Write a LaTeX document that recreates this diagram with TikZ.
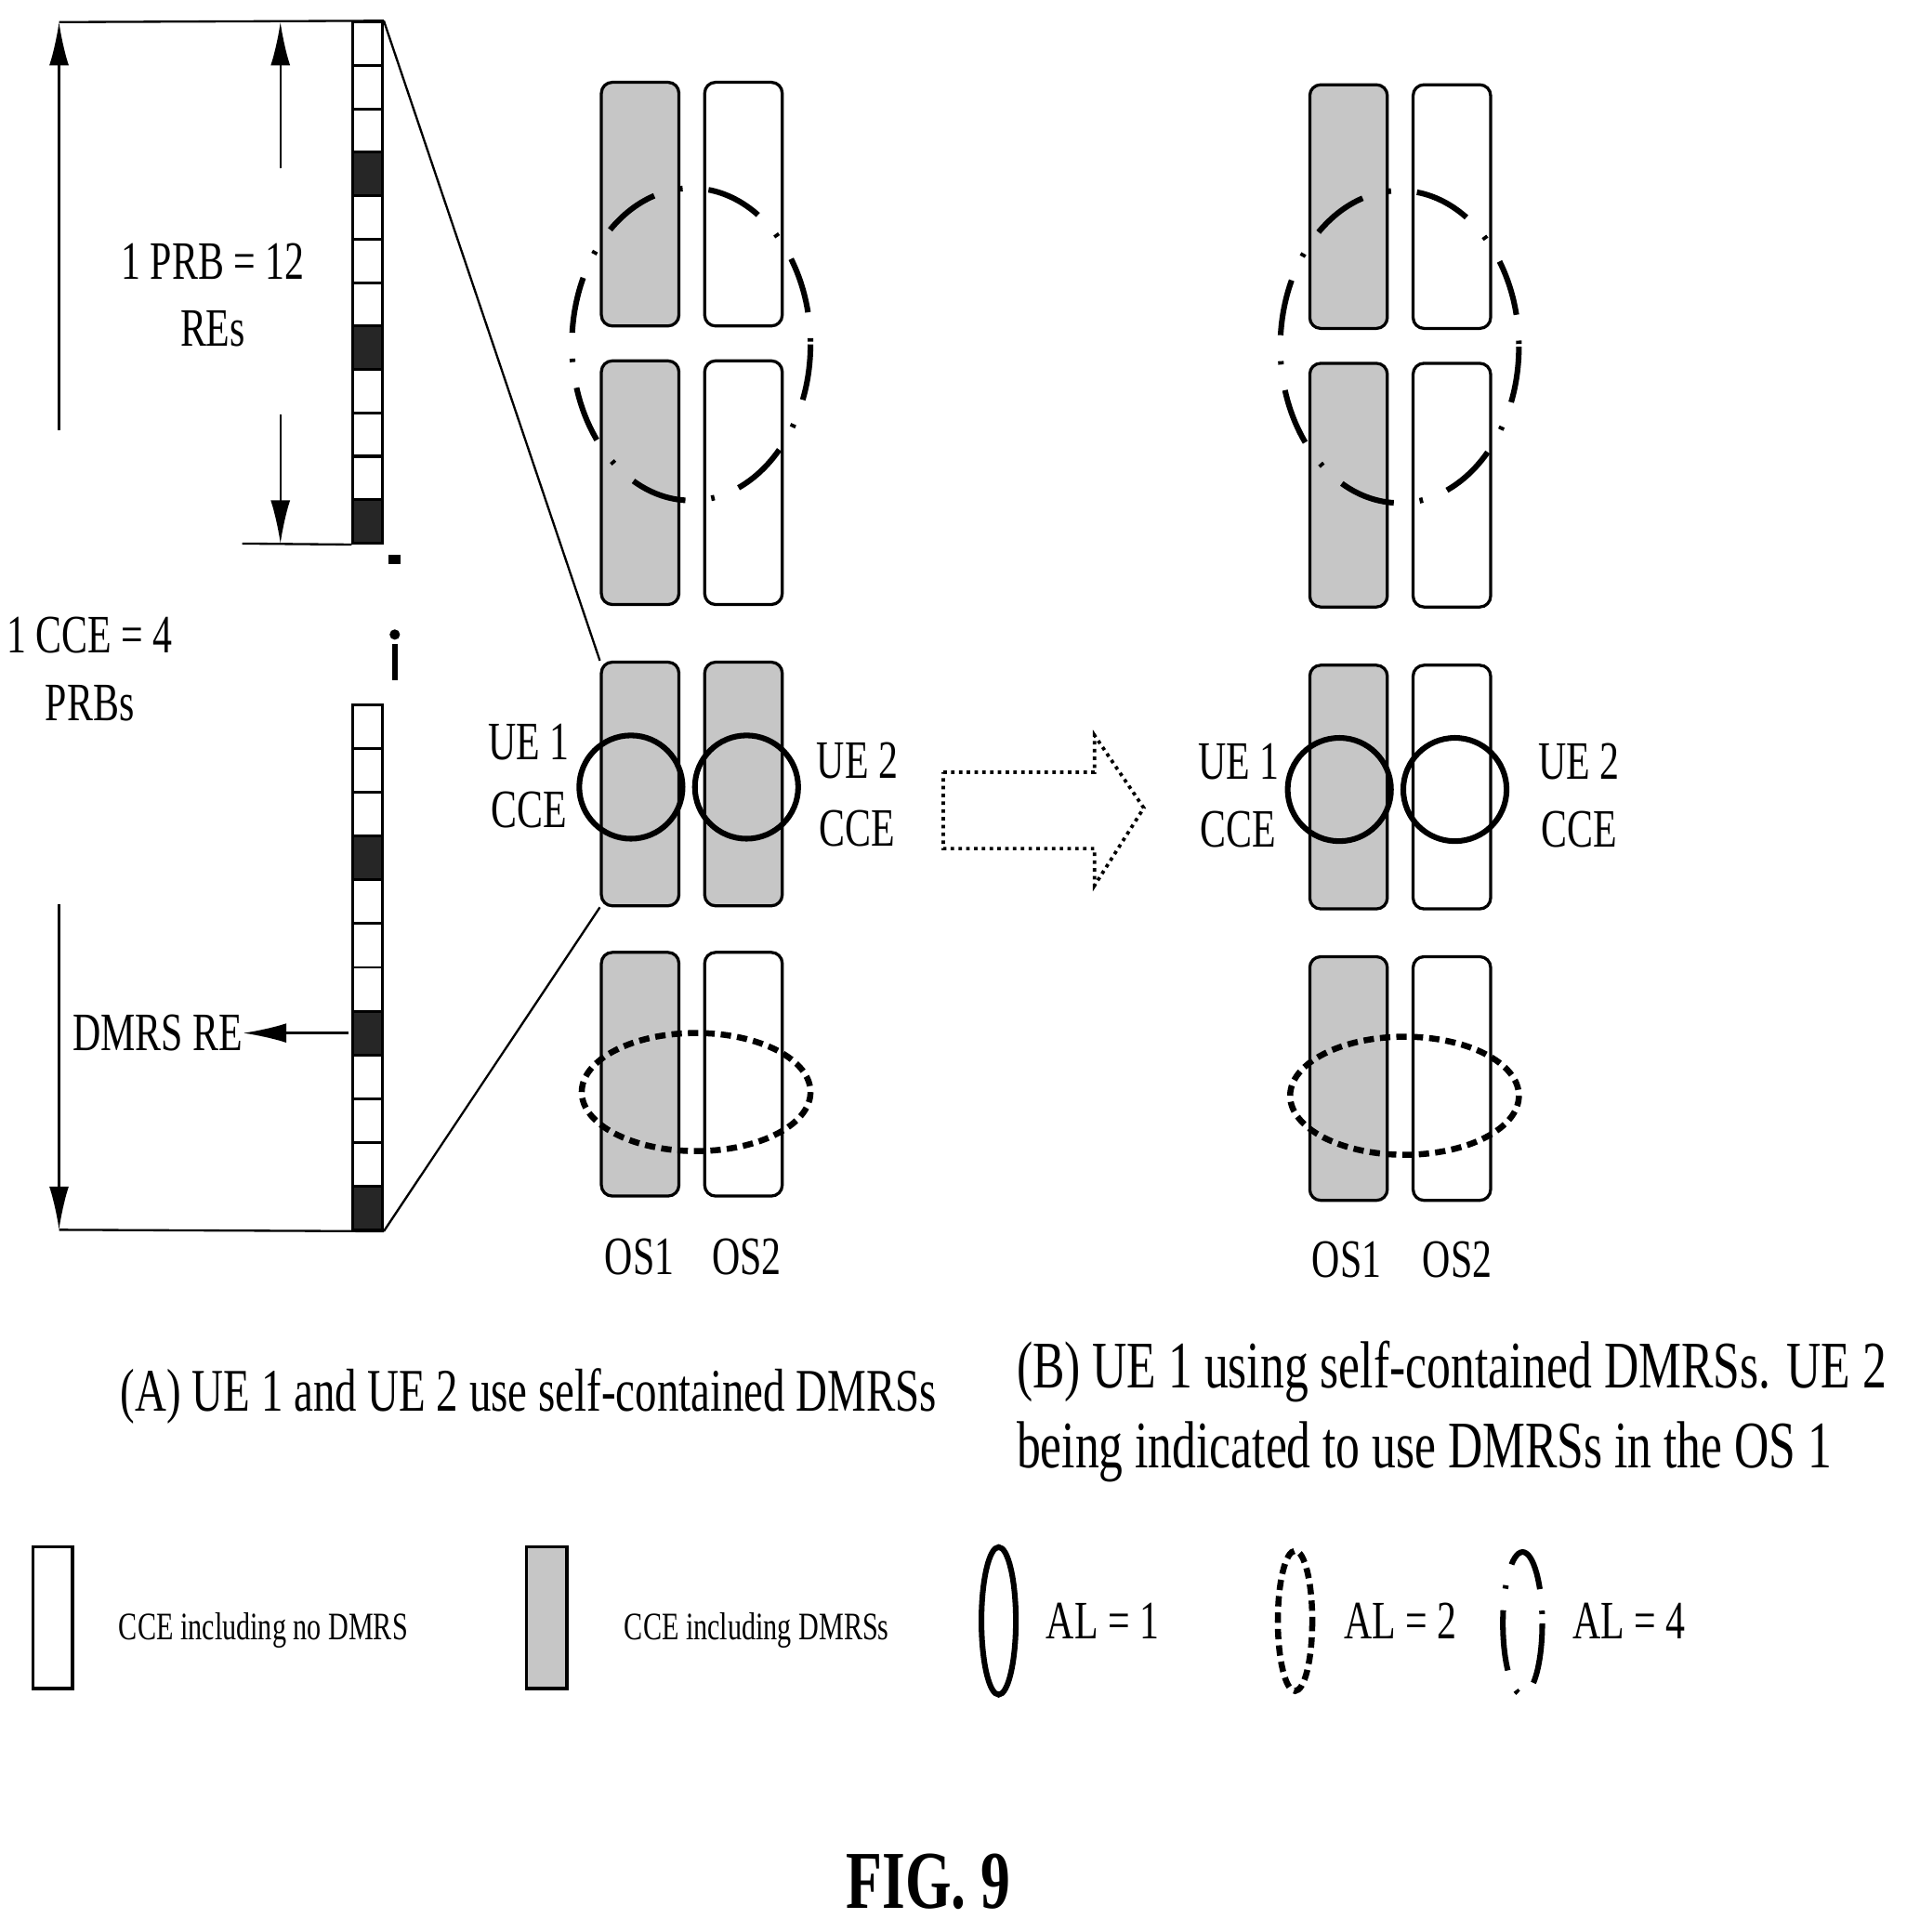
\documentclass[tikz,border=0pt]{standalone}
\usepackage{fontspec}
\setmainfont{Liberation Serif}[FakeStretch=0.72]
\usetikzlibrary{shapes, arrows, arrows.meta}
\tikzstyle{cce} = [rectangle, draw, line width=0.7pt, rounded corners=2.5pt, minimum width=0.63cm, minimum height=1.98cm, inner sep=0pt]
\tikzstyle{dmrs} = [cce, fill=gray!45]
\tikzstyle{cell} = [rectangle, draw, line width=0.6pt, minimum width=0.24cm, minimum height=0.355cm, inner sep=0pt]
\tikzstyle{alone} = [draw, line width=1.3pt]
\tikzstyle{altwo} = [draw, line width=1.4pt, dash pattern=on 2.4pt off 1.4pt]
\tikzstyle{alfour} = [draw, line width=1.3pt, dash pattern=on 13pt off 6pt on 0.8pt off 6pt]
\tikzstyle{label} = [font=\fontsize{12.5}{15.6}\selectfont, align=center, inner sep=0pt]
\tikzstyle{caption} = [font=\fontsize{14}{18.5}\selectfont, inner sep=0pt]
\tikzstyle{connector} = [draw, line width=0.5pt, -{Latex[length=10pt,width=4.5pt]}]

\begin{document}
\begin{tikzpicture}[x=0.01cm, y=-0.01cm]
\useasboundingbox (0,0) rectangle (1550,1571);

% strips of REs
\foreach \i in {0,...,11} {
  \pgfmathtruncatemacro{\d}{mod(\i,4)==3 ? 1 : 0}
  \ifnum\d=1
    \node [cell, fill=black!85] (top\i) at (299, 35.7+35.3*\i) {};
    \node [cell, fill=black!85] (bot\i) at (299, 590.8+35.6*\i) {};
  \else
    \node [cell] (top\i) at (299, 35.7+35.3*\i) {};
    \node [cell] (bot\i) at (299, 590.8+35.6*\i) {};
  \fi
}
\draw [line width=2pt] (316,455) -- (326,455);
\fill (321,516) circle (1.2pt);
\draw [line width=1.3pt] (321,524) -- (321,553);

% guide lines
\coordinate (tl) at (48,18);
\coordinate (bl) at (48,1000);
\coordinate (ml) at (197,442);
\draw [line width=0.5pt] (tl) -- (top0.north east);
\draw [line width=0.5pt] (bl) -- (bot11.south east);
\draw [line width=0.5pt] (ml) -- (top11.south west);
\coordinate (a1) at (48,350);
\coordinate (a2) at (48,735);
\coordinate (b1) at (228,137);
\coordinate (b2) at (228,337);
\coordinate (b1e) at (228,18);
\coordinate (b2e) at (228,442);
\path [connector] (a1) -- (tl);
\path [connector] (a2) -- (bl);
\path [connector] (b1) -- (b1e);
\path [connector] (b2) -- (b2e);

\node [label] (prb) at (173,240) {1 PRB = 12\\REs};
\node [label] (cceprb) at (73,544) {1 CCE = 4\\PRBs};
\node [label] (dmrsre) at (128,840) {DMRS RE};
\coordinate (dmrsp) at (283,840);
\path [connector] (dmrsp) -- (dmrsre.east);

% (A)
\node [dmrs] (a11) at (520.5,166) {};
\node [cce]  (a12) at (604.5,166) {};
\node [dmrs] (a21) at (520.5,392.5) {};
\node [cce]  (a22) at (604.5,392.5) {};
\node [dmrs] (a31) at (520.5,637.5) {};
\node [dmrs] (a32) at (604.5,637.5) {};
\node [dmrs] (a41) at (520.5,873.5) {};
\node [cce]  (a42) at (604.5,873.5) {};
\draw [line width=0.5pt] (top0.north east) -- (a31.north west);
\draw [line width=0.5pt] (bot11.south east) -- (a31.south west);
\draw [alfour] (562,280) ellipse (97 and 127);
\draw [alone] (513,640) circle (42);
\draw [alone] (607,640) circle (42);
\draw [altwo] (566,888) ellipse (93 and 48);
\node [label] (ue1a) at (430,631) {UE 1\\CCE};
\node [label] (ue2a) at (697,646) {UE 2\\CCE};
\node [label] (os1a) at (520,1022) {OS1};
\node [label] (os2a) at (607,1022) {OS2};

% hollow arrow
\draw [densely dotted, line width=0.8pt] (767,628) -- (890,628) -- (890,598) -- (930,657)
  -- (890,720) -- (890,690) -- (767,690) -- cycle;

% (B)
\node [dmrs] (b11) at (1096.5,168) {};
\node [cce]  (b12) at (1180.5,168) {};
\node [dmrs] (b21) at (1096.5,394.5) {};
\node [cce]  (b22) at (1180.5,394.5) {};
\node [dmrs] (b31) at (1096.5,640) {};
\node [cce]  (b32) at (1180.5,640) {};
\node [dmrs] (b41) at (1096.5,877) {};
\node [cce]  (b42) at (1180.5,877) {};
\draw [alfour] (1138,282) ellipse (97 and 127);
\draw [alone] (1089,642) circle (42);
\draw [alone] (1183,642) circle (42);
\draw [altwo] (1142,891) ellipse (93 and 48);
\node [label] (ue1b) at (1007,647) {UE 1\\CCE};
\node [label] (ue2b) at (1284,647) {UE 2\\CCE};
\node [label] (os1b) at (1095,1024) {OS1};
\node [label] (os2b) at (1185,1024) {OS2};

% captions
\node [caption] (capa) at (430,1135) {(A) UE 1 and UE 2 use self-contained DMRSs};
\node [caption, font=\fontsize{15.4}{18.5}\selectfont, anchor=west, align=left] (capb) at (826,1148) {(B) UE 1 using self-contained DMRSs. UE 2\\being indicated to use DMRSs in the OS 1};

% legend
\node [rectangle, draw, line width=0.7pt, minimum width=0.32cm, minimum height=1.15cm, inner sep=0pt] (legw) at (43,1315.5) {};
\node [label, font=\fontsize{9}{11}\selectfont, anchor=west] (legwt) at (96,1326) {CCE including no DMRS};
\node [rectangle, draw, fill=gray!45, line width=0.7pt, minimum width=0.33cm, minimum height=1.15cm, inner sep=0pt] (legg) at (444.5,1315.5) {};
\node [label, font=\fontsize{9}{11}\selectfont, anchor=west] (leggt) at (507,1326) {CCE including DMRSs};
\draw [alone] (812,1318) ellipse (14 and 60);
\node [label, anchor=west] (al1) at (850,1318) {AL = 1};
\draw [altwo] (1053,1318) ellipse (14 and 57);
\node [label, anchor=west] (al2) at (1092,1318) {AL = 2};
\draw [alfour, dash pattern=on 14pt off 5pt on 0.8pt off 5pt] (1238,1320) ellipse (16 and 58);
\node [label, anchor=west] (al4) at (1278,1318) {AL = 4};

\node [font=\fontsize{19}{21}\selectfont\bfseries] (fig) at (755,1530) {FIG. 9};
\end{tikzpicture}
\end{document}
